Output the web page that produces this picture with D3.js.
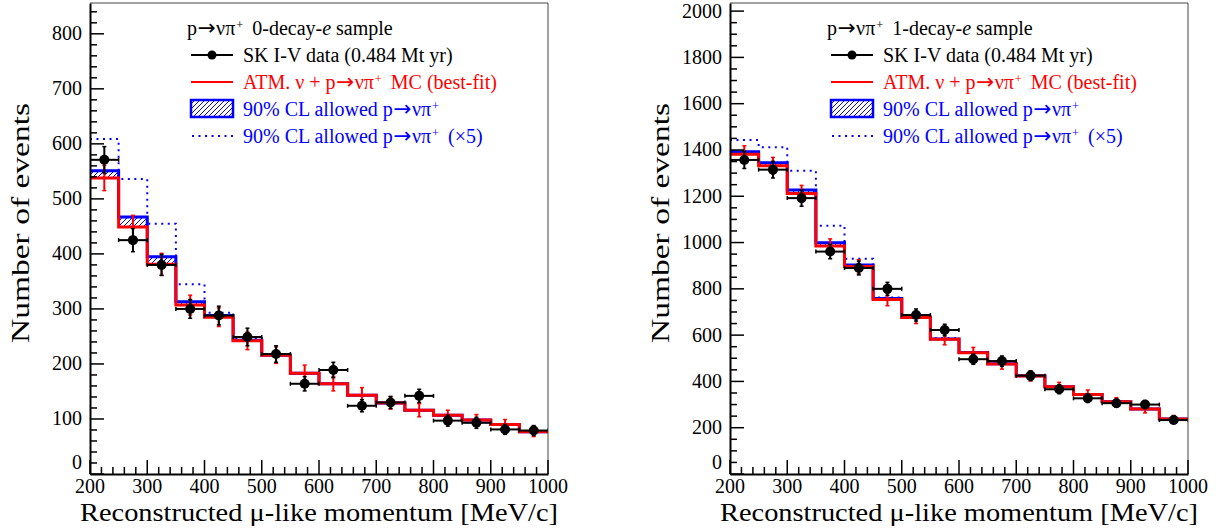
<!DOCTYPE html>
<html><head><meta charset="utf-8">
<script src="https://cdn.jsdelivr.net/npm/d3@7"></script>
<style>
html,body{margin:0;padding:0;background:#fff;}
text{font-family:"Liberation Serif","Times New Roman",serif;}
</style></head>
<body>
<svg id="chart" width="1224" height="531"></svg>
<script>
// ---- data ----
const binLow  = [200,250,300,350,400,450,500,550,600,650,700,750,800,850,900,950];
const binHigh = [250,300,350,400,450,500,550,600,650,700,750,800,850,900,950,1000];
const xTicks = [200,300,400,500,600,700,800,900,1000];

// 0-decay-e sample
const data0    = [571,425,380,300,288,249,218,164,189,124,130,142,97,93,81,79];
const dataErr0 = [24,21,19,17,17,16,15,13,14,11,11,12,10,10,9,9];
const mc0      = [538,449,381,307,285,242,216,183,164,143,129,116,107,98,90,77];
const mcErr0   = [23,21,20,18,17,16,15,15,13,14,11,12,9,10,9,9];
const cl0      = [551,467,395,313,288,243,216,183,164,143,129,116,107,98,90,77];
const cl5x0    = [609,536,455,345,293,247,217,183,164,143,129,116,107,98,90,77];
const yTicks0  = [0,100,200,300,400,500,600,700,800];

// 1-decay-e sample
const data1    = [1357,1315,1192,961,890,800,687,622,496,488,425,366,327,306,300,233];
const dataErr1 = [37,36,35,31,30,28,26,25,22,22,21,19,18,17,17,15];
const mc1      = [1381,1332,1212,985,896,754,676,582,524,475,423,377,344,312,281,238];
const mcErr1   = [37,36,35,31,30,27,26,24,23,22,21,19,19,18,17,15];
const cl1      = [1392,1345,1227,999,903,758,678,583,525,476,424,377,344,312,281,238];
const cl5x1    = [1443,1412,1310,1073,930,763,684,586,527,477,425,378,345,313,282,238];
const yTicks1  = [0,200,400,600,800,1000,1200,1400,1600,1800,2000];

const RED = "#ff0000", BLUE = "#0000ff";
const svg = d3.select("#chart");

const defs = svg.append("defs");
const pat = defs.append("pattern").attr("id","hatch").attr("patternUnits","userSpaceOnUse")
  .attr("width",5).attr("height",5);
pat.append("path").attr("d","M-1,1 l2,-2 M0,5 l5,-5 M4,6 l2,-2")
  .attr("stroke",BLUE).attr("stroke-width",1);

function addLabel(sel, parts){
  parts.forEach(p=>{
    const t = sel.append("tspan").text(p[0]);
    if(p[1]==="arrow"){ t.style("font-family","'DejaVu Sans'").attr("font-size","1.08em").attr("dx",0.5); }
    if(p[1]==="nu"){ t.attr("dx",0.5); }
    if(p[1]==="sup"){ t.attr("font-size","0.62em").attr("dy","-0.45em").attr("dx",1); }
    if(p[1]==="i"){ t.attr("font-style","italic"); }
    if(p[1]==="after"){ t.attr("dy","0.28em").attr("dx",9); }
  });
}

function panel(o){
  const g = svg.append("g");
  const x = d3.scaleLinear().domain([200,1000]).range([o.left, o.left+458]);
  const y = d3.scaleLinear().domain([0,o.ymax]).range([474,3]);
  const clipId = "clip"+o.id;
  defs.append("clipPath").attr("id",clipId).append("rect")
    .attr("x",o.left).attr("y",3).attr("width",458).attr("height",471);
  const plot = g.append("g").attr("clip-path",`url(#${clipId})`);

  const stepPts = vals => vals.flatMap((v,i)=>[[binLow[i],v],[binHigh[i],v]]);
  const line = d3.line().x(d=>x(d[0])).y(d=>y(d[1]));

  plot.append("path").attr("d",line(stepPts(o.cl5))).attr("fill","none")
    .attr("stroke",BLUE).attr("stroke-width",2).attr("stroke-dasharray","2,4.5");
  const bandPts = o.mc.flatMap((v,i)=>[[binLow[i],v,o.cl[i]],[binHigh[i],v,o.cl[i]]]);
  const area = d3.area().x(d=>x(d[0])).y0(d=>y(d[1])).y1(d=>y(d[2]));
  plot.append("path").attr("d",area(bandPts)).attr("fill","url(#hatch)").attr("stroke","none");
  plot.append("path").attr("d",line(stepPts(o.cl))).attr("fill","none")
    .attr("stroke",BLUE).attr("stroke-width",3);
  const cx = i => x((binLow[i]+binHigh[i])/2);
  plot.append("path").attr("d",line(stepPts(o.mc))).attr("fill","none")
    .attr("stroke",RED).attr("stroke-width",3);
  o.mc.forEach((v,i)=>{
    plot.append("line").attr("x1",cx(i)).attr("x2",cx(i))
      .attr("y1",y(v-o.mcErr[i])).attr("y2",y(v+o.mcErr[i])).attr("stroke",RED).attr("stroke-width",2);
    [v-o.mcErr[i], v+o.mcErr[i]].forEach(e=>plot.append("line").attr("x1",cx(i)-2).attr("x2",cx(i)+2)
      .attr("y1",y(e)).attr("y2",y(e)).attr("stroke",RED).attr("stroke-width",1.5));
  });
  o.data.forEach((v,i)=>{
    const c = cx(i), yy = y(v), e = o.dataErr[i];
    plot.append("line").attr("x1",x(binLow[i])).attr("x2",x(binHigh[i])).attr("y1",yy).attr("y2",yy)
      .attr("stroke","#000").attr("stroke-width",2);
    [binLow[i],binHigh[i]].forEach(b=>plot.append("line").attr("x1",x(b)).attr("x2",x(b))
      .attr("y1",yy-2).attr("y2",yy+2).attr("stroke","#000").attr("stroke-width",1.5));
    plot.append("line").attr("x1",c).attr("x2",c).attr("y1",y(v-e)).attr("y2",y(v+e))
      .attr("stroke","#000").attr("stroke-width",2);
    [v-e,v+e].forEach(t=>plot.append("line").attr("x1",c-2).attr("x2",c+2).attr("y1",y(t)).attr("y2",y(t))
      .attr("stroke","#000").attr("stroke-width",1.5));
    plot.append("circle").attr("cx",c).attr("cy",yy).attr("r",5).attr("fill","#000");
  });

  g.append("line").attr("x1",o.left).attr("x2",o.left+458).attr("y1",3).attr("y2",3).attr("stroke","#444").attr("stroke-width",1);
  g.append("line").attr("x1",o.left+458).attr("x2",o.left+458).attr("y1",3).attr("y2",474).attr("stroke","#444").attr("stroke-width",1);

  // x axis
  const xa = g.append("g").attr("transform","translate(0,474)");
  xa.call(d3.axisBottom(x).tickValues(xTicks).tickSize(0).tickFormat(""));
  xa.select(".domain").attr("stroke","#000").attr("stroke-width",2);
  d3.range(200,1001,20).forEach(t=>{
    const major = t%100===0;
    xa.append("line").attr("x1",x(t)).attr("x2",x(t)).attr("y1",0).attr("y2",major?-14:-7)
      .attr("stroke","#000").attr("stroke-width",1.5);
  });
  xTicks.forEach(t=>xa.append("text").attr("x",x(t)).attr("y",18.5).attr("text-anchor","middle")
    .attr("fill","#000").attr("font-size",20).text(t));
  // y axis
  const ya = g.append("g").attr("transform",`translate(${o.left},0)`);
  ya.call(d3.axisLeft(y).tickValues(o.yTicks).tickSize(0).tickFormat(""));
  ya.select(".domain").attr("stroke","#000").attr("stroke-width",2);
  d3.range(0,o.ymax,o.minor).forEach(t=>{
    const major = t%o.major===0;
    ya.append("line").attr("x1",0).attr("x2",major?14:7).attr("y1",y(t)).attr("y2",y(t))
      .attr("stroke","#000").attr("stroke-width",1.5);
  });
  o.yTicks.forEach(t=>ya.append("text").attr("x",-8).attr("y",y(t)+6.5-(t===0?12:0))
    .attr("text-anchor","end").attr("fill","#000").attr("font-size",20).text(t));

  // titles
  g.append("text").attr("x",o.left-10).attr("y",521).attr("font-size",26).attr("fill","#000")
    .attr("textLength",478).attr("lengthAdjust","spacingAndGlyphs")
    .text("Reconstructed μ-like momentum [MeV/c]");
  g.append("text").attr("transform",`translate(${o.left-61},343) rotate(-90)`)
    .attr("font-size",26).attr("fill","#000")
    .attr("textLength",240).attr("lengthAdjust","spacingAndGlyphs").text("Number of events");

  // legend
  const L = o.left + 97;
  const hdr = g.append("text").attr("x",L).attr("y",34.5).attr("font-size",20);
  addLabel(hdr,[["p","n"],["→","arrow"],["νπ","nu"],["+","sup"],[o.tag+"-decay-","after"],["e","i"],[" sample","n"]]);
  const sx0 = L+4, sx1 = L+46, tx = L+56;
  g.append("line").attr("x1",sx0).attr("x2",sx1).attr("y1",55).attr("y2",55).attr("stroke","#000").attr("stroke-width",2);
  g.append("circle").attr("cx",(sx0+sx1)/2).attr("cy",55).attr("r",4.5).attr("fill","#000");
  g.append("text").attr("x",tx).attr("y",61.5).attr("font-size",20).text("SK I-V data (0.484 Mt yr)");
  g.append("line").attr("x1",sx0).attr("x2",sx1).attr("y1",82).attr("y2",82).attr("stroke",RED).attr("stroke-width",2);
  const t2 = g.append("text").attr("x",tx).attr("y",88.5).attr("font-size",20).attr("fill",RED);
  addLabel(t2,[["ATM. ν + p","n"],["→","arrow"],["νπ","nu"],["+","sup"],["MC (best-fit)","after"]]);
  g.append("rect").attr("x",sx0).attr("y",100).attr("width",sx1-sx0).attr("height",17)
    .attr("fill","url(#hatch)").attr("stroke",BLUE).attr("stroke-width",2.5);
  const t3 = g.append("text").attr("x",tx).attr("y",115.5).attr("font-size",20).attr("fill",BLUE);
  addLabel(t3,[["90% CL allowed p","n"],["→","arrow"],["νπ","nu"],["+","sup"]]);
  g.append("line").attr("x1",sx0+1).attr("x2",sx1).attr("y1",136).attr("y2",136).attr("stroke",BLUE)
    .attr("stroke-width",2).attr("stroke-dasharray","2,4.5");
  const t4 = g.append("text").attr("x",tx).attr("y",142.5).attr("font-size",20).attr("fill",BLUE);
  addLabel(t4,[["90% CL allowed p","n"],["→","arrow"],["νπ","nu"],["+","sup"],["(×5)","after"]]);
}

panel({id:0,left:90,ymax:856,yTicks:yTicks0,major:100,minor:20,tag:"0",
  data:data0,dataErr:dataErr0,mc:mc0,mcErr:mcErr0,cl:cl0,cl5:cl5x0});
panel({id:1,left:730,ymax:2035,yTicks:yTicks1,major:200,minor:50,tag:"1",
  data:data1,dataErr:dataErr1,mc:mc1,mcErr:mcErr1,cl:cl1,cl5:cl5x1});
</script>
</body></html>
